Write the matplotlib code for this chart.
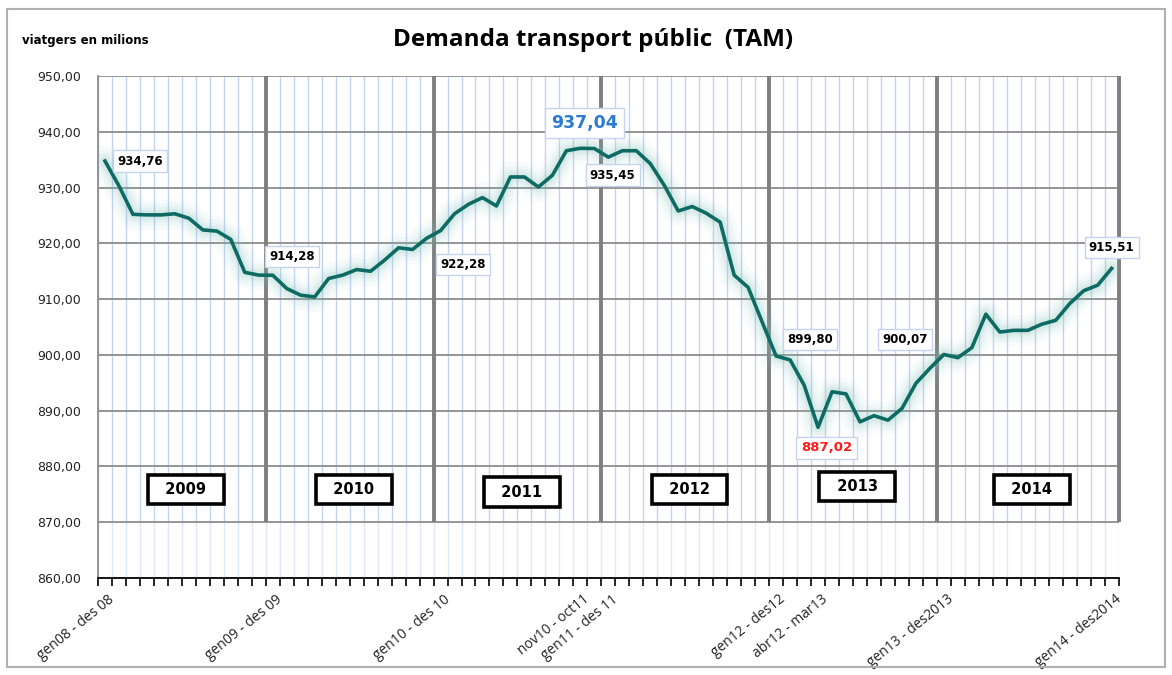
import numpy as np
import matplotlib.pyplot as plt
from matplotlib.patches import Rectangle

# Demanda TAM (viatgers en milions), un punt per mes: des 2008 .. des 2014
valors = [934.76, 930.3, 925.2, 925.1, 925.1, 925.3, 924.5, 922.4, 922.2, 920.7,
          914.8, 914.3,
          914.28, 911.9, 910.7, 910.4, 913.7, 914.3, 915.3, 915.0, 917.0, 919.2,
          918.9, 920.9,
          922.28, 925.3, 927.0, 928.2, 926.7, 931.9, 931.9, 930.1, 932.2, 936.6,
          937.04, 937.0,
          935.45, 936.6, 936.6, 934.3, 930.4, 925.8, 926.6, 925.4, 923.8, 914.3,
          912.1, 905.9,
          899.80, 899.1, 894.6, 887.02, 893.4, 893.0, 888.0, 889.1, 888.3, 890.4,
          894.9, 897.6,
          900.07, 899.5, 901.3, 907.3, 904.1, 904.4, 904.4, 905.5, 906.2, 909.2,
          911.5, 912.5,
          915.51]

etiquetes_x = {0: "gen08 - des 08", 12: "gen09 - des 09", 24: "gen10 - des 10",
               34: "nov10 - oct11", 36: "gen11 - des 11", 48: "gen12 - des12",
               51: "abr12 - mar13", 60: "gen13 - des2013", 72: "gen14 - des2014"}

anys = ["2009", "2010", "2011", "2012", "2013", "2014"]

# punts amb etiqueta de valor
punts_etiqueta = [0, 12, 24, 34, 36, 48, 51, 60, 72]

n = len(valors)
x = np.arange(n)

fig = plt.figure(figsize=(11.72, 6.75), dpi=100)
ax = fig.add_axes([0.0836, 0.1437, 0.8709, 0.7437])
fig.patches.append(Rectangle((0.006, 0.012), 0.988, 0.975, transform=fig.transFigure,
                             fill=False, edgecolor='#b0b0b0', linewidth=1.5))

ax.set_xlim(-0.5, n - 0.5)
ax.set_ylim(860, 950)

# quadricula vertical blava a cada mes (mes clara sota 870)
for b in np.arange(-0.5, n, 1.0):
    ax.plot([b, b], [870, 950], color='#c3d3f1', linewidth=1, zorder=0)
    ax.plot([b, b], [860, 870], color='#e1e9f8', linewidth=1, zorder=0)
# quadricula horitzontal
for v in np.arange(870, 951, 10):
    ax.axhline(v, color='#8c8c8c', linewidth=1.3, zorder=1)

# separadors d'any
limits_any = [11.5, 23.5, 35.5, 47.5, 59.5, 72.5]
for b in limits_any:
    ax.plot([b, b], [870, 950], color='#7f7f7f', linewidth=2.8, zorder=2,
            solid_capstyle='butt', clip_on=False)

# linia amb resplendor difusa
for amplada, alfa in [(22, 0.05), (16, 0.07), (11, 0.09), (7, 0.12)]:
    ax.plot(x, valors, color='#7fc2ba', linewidth=amplada, alpha=alfa, zorder=3,
            solid_capstyle='round', solid_joinstyle='round')
ax.plot(x, valors, color='#0d6b63', linewidth=2.6, zorder=4)

# etiquetes de valor
despl = {0: (2.5, 0), 12: (1.4, 3.4), 24: (1.6, -6.1), 34: (0.3, 4.6),
         36: (0.3, -3.2), 48: (2.4, 3.0), 51: (0.6, -3.7), 60: (-2.8, 2.7),
         72: (0.0, 3.8)}
for i in punts_etiqueta:
    dx, dy = despl[i]
    txt = f"{valors[i]:.2f}".replace('.', ',')
    color, mida = 'black', 8.5
    if i == 34:
        color, mida = '#2b7bd0', 12.5
    elif i == 51:
        color, mida = '#ff1a1a', 9.5
    ax.text(i + dx, valors[i] + dy, txt, ha='center', va='center', fontsize=mida,
            fontweight='bold', color=color, family='DejaVu Sans', zorder=5,
            bbox=dict(boxstyle='square,pad=0.35', facecolor='white',
                      edgecolor='#c5d3ee', linewidth=1))

# caixes d'any
inicis = [-0.5] + limits_any[:-1]
alt_caixa = {"2011": 875.4, "2013": 876.4}
for nom, a, b in zip(anys, inicis, limits_any):
    ax.text((a + b) / 2 + 0.3, alt_caixa.get(nom, 875.9), "  " + nom + "  ",
            ha='center', va='center', fontsize=10.5,
            fontweight='bold', family='DejaVu Sans', zorder=6,
            bbox=dict(boxstyle='square,pad=0.5', facecolor='white',
                      edgecolor='black', linewidth=2.6))

# eixos
ax.set_yticks(np.arange(860, 951, 10))
ax.set_yticklabels([f"{v:.2f}".replace('.', ',') for v in np.arange(860, 951, 10)],
                   fontsize=9, color='#222222')
ax.tick_params(axis='y', length=0, pad=12)
ax.set_xticks(np.arange(-0.5, n, 1.0))
ax.set_xticklabels([])
ax.tick_params(axis='x', direction='out', length=6, width=1.2, color='black')
for k, etiqueta in etiquetes_x.items():
    ax.text(k + 0.2, 857.5, etiqueta, rotation=39, ha='right', va='top',
            rotation_mode='anchor', fontsize=10, family='Open Sans', color='#222222')

for s in ['top', 'right']:
    ax.spines[s].set_visible(False)
ax.spines['left'].set_color('#8c8c8c')
ax.spines['left'].set_linewidth(1.3)
ax.spines['bottom'].set_color('black')
ax.spines['bottom'].set_linewidth(1.3)

fig.text(0.506, 0.94, "Demanda transport públic  (TAM)", ha='center', va='center',
         fontsize=17.5, fontweight='bold', family='Open Sans')
fig.text(0.019, 0.94, "viatgers en milions", ha='left', va='center',
         fontsize=8.5, fontweight='bold', family='DejaVu Sans')

fig.savefig('out.png', dpi=100)
plt.close(fig)
